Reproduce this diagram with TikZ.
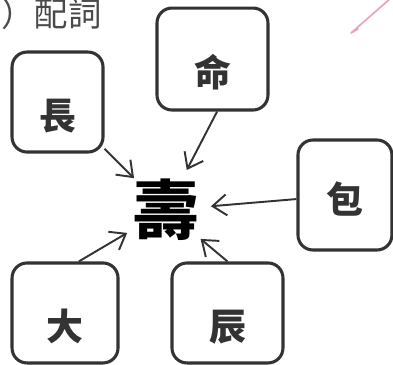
\documentclass[tikz,border=0pt]{standalone}
\usepackage{fontspec}
\newfontfamily\cjk{Noto Sans CJK TC}
\usetikzlibrary{positioning, arrows.meta}

\definecolor{ink}{HTML}{333333}
\definecolor{pencil}{HTML}{4A4A4A}
\definecolor{redpen}{HTML}{E6A8C0}

\tikzset{
  charbox/.style={draw=ink, line width=1.75pt, rounded corners=0.3cm, inner sep=0pt,
                  text height=1.2cm, text depth=0.09cm,
                  font=\cjk\bfseries\fontsize{21}{21}\selectfont, text=ink},
  feed/.style={draw=ink, line width=1.1pt, -{Straight Barb[length=2.8mm, width=4.2mm]}}
}

\begin{document}
\begin{tikzpicture}[x=0.02cm, y=-0.02cm, node distance=2cm, on grid]
	\useasboundingbox (0,0) rectangle (393,365);
	% heading, cut at the left edge
	\node[anchor=west, inner sep=0pt, text=pencil, font=\cjk\fontsize{19}{19}\selectfont] (head) at (1,14) {）配詞};
	\draw[redpen, line width=1pt, line cap=round, line join=round] (391,-2) -- (351,33) -- (358,29);
	% centre character
	\node[circle, minimum size=1.52cm, inner sep=0pt, font=\cjk\bfseries\fontsize{37}{37}\selectfont] (shou) at (166,210) {壽};
	% parts
	\node[charbox, minimum width=1.82cm, minimum height=2.0cm] (chang) [above left=2.16cm and 2.17cm of shou] {長};
	\node[charbox, minimum width=2.22cm, minimum height=2.04cm] (ming) [above right=3.02cm and 0.93cm of shou] {命};
	\node[charbox, minimum width=1.88cm, minimum height=2.2cm, text height=0.85cm] (bao) [above right=0.30cm and 3.58cm of shou] {包};
	\node[charbox, minimum width=2.12cm, minimum height=2.0cm] (da) [below left=2.06cm and 2.02cm of shou] {大};
	\node[charbox, minimum width=2.22cm, minimum height=2.0cm] (chen) [below right=2.06cm and 1.23cm of shou] {辰};
	% arrows into the centre
	\draw[feed] (chang) -- (shou);
	\draw[feed] (ming.-85) -- (shou);
	\draw[feed] (bao) -- (shou);
	\draw[feed] (da.75) -- (shou);
	\draw[feed] (chen.north) -- (shou);
\end{tikzpicture}
\end{document}
